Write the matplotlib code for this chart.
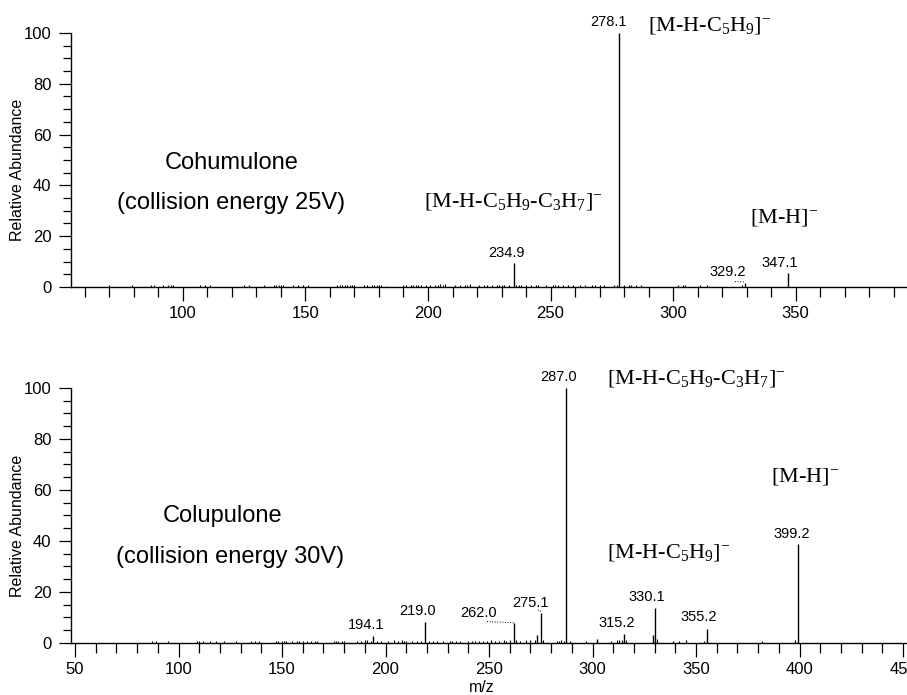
import numpy as np
import matplotlib
matplotlib.use('Agg')
import matplotlib.pyplot as plt
from matplotlib.ticker import MultipleLocator

plt.rcParams['font.family'] = ['Liberation Sans', 'DejaVu Sans']
plt.rcParams['mathtext.fontset'] = 'custom'
plt.rcParams['mathtext.rm'] = 'Liberation Serif'
plt.rcParams['mathtext.it'] = 'Liberation Serif:italic'

# cohumulone, collision energy 25V - labelled peaks
coh_mz = [234.9, 278.1, 329.2, 347.1]
coh_int = [9.3, 100.0, 1.7, 5.4]
# cohumulone small baseline peaks
coh_noise_mz = [70, 79, 87, 88, 92, 94, 95, 96, 107, 109, 111, 125, 127, 133,
                137, 138, 139, 140, 141, 145, 147, 149, 151, 163, 164, 165, 166,
                167, 168, 169, 170, 174, 175, 177, 178, 179, 180, 181, 183, 190,
                191, 193, 194, 195, 196, 197, 199, 201, 203, 204, 205, 206, 207,
                211, 213, 215, 216, 217, 221, 223, 224, 226, 228, 229, 230, 231,
                233, 236, 237, 238, 240, 242, 244, 245, 248, 251, 252, 253, 255,
                257, 259, 262, 264, 267, 268, 270, 272, 276, 277, 280, 282, 283,
                285, 287, 302, 304, 305, 311, 314, 328]
coh_noise_int = [0.6, 0.6, 0.8, 0.8, 0.7, 0.7, 0.8, 0.6, 0.8, 0.7, 0.8, 0.8, 0.9, 0.7,
                 0.8, 0.6, 0.7, 0.8, 0.6, 0.8, 0.7, 0.8, 0.6, 0.6, 0.7, 0.6, 0.7,
                 0.6, 0.7, 0.6, 0.7, 0.6, 0.7, 0.6, 0.8, 0.6, 0.7, 0.6, 0.5, 0.7,
                 0.8, 0.6, 0.7, 0.9, 0.6, 0.7, 0.8, 0.6, 0.7, 0.8, 1.0, 0.7, 1.1,
                 0.6, 0.7, 0.8, 0.6, 1.2, 0.7, 0.8, 0.6, 0.7, 0.9, 0.6, 0.7, 0.8,
                 0.9, 0.7, 0.6, 0.8, 0.7, 0.6, 0.8, 0.7, 0.6, 0.8, 0.7, 0.9, 0.6,
                 0.7, 0.6, 0.6, 0.7, 0.6, 0.7, 0.8, 0.7, 0.6, 0.8, 0.7, 0.6, 0.8,
                 0.6, 0.7, 0.7, 0.8, 0.7, 0.8, 0.7, 0.6]

# colupulone, collision energy 30V - labelled and larger peaks
col_mz = [194.1, 219.0, 262.0, 273.1, 275.1, 287.0, 302.0, 315.2, 329.1,
          330.1, 355.2, 399.2]
col_int = [2.7, 8.3, 7.7, 3.1, 11.9, 100.0, 1.5, 3.5, 3.0, 13.6, 5.5, 38.8]
# colupulone small baseline peaks
col_noise_mz = [87, 89, 95, 109, 110, 112, 115, 118, 122, 128, 135, 137, 139,
                147, 148, 150, 151, 152, 155, 157, 158, 160, 162, 164, 166, 167,
                175, 176, 177, 179, 180, 186, 188, 190, 191, 193, 196, 198, 201,
                204, 206, 208, 209, 210, 213, 215, 217, 221, 223, 225, 228, 231,
                232, 234, 236, 240, 242, 243, 245, 247, 249, 251, 253, 255, 257,
                258, 260, 263, 265, 268, 270, 272, 276, 283, 284, 285, 286, 289,
                297, 309, 312, 313, 314, 316, 331, 339, 342, 345, 354, 382, 398]
col_noise_int = [0.7, 0.8, 0.7, 0.8, 0.7, 0.7, 0.6, 0.6, 0.6, 0.8, 0.9, 0.8, 0.9,
                 0.7, 0.8, 0.7, 0.8, 0.6, 0.7, 0.6, 0.8, 0.7, 0.6, 0.7, 0.6, 0.7,
                 0.6, 0.7, 0.8, 0.7, 0.6, 0.8, 0.7, 1.0, 1.2, 0.7, 0.9, 0.7, 0.8,
                 1.0, 0.7, 1.2, 0.8, 0.9, 0.7, 0.8, 0.7, 0.8, 0.7, 0.9, 0.7, 0.8,
                 0.6, 0.8, 0.7, 0.8, 0.9, 0.7, 0.8, 0.9, 0.8, 1.0, 0.8, 0.9, 1.0,
                 0.8, 1.1, 1.2, 0.9, 1.0, 1.3, 1.1, 1.2, 0.9, 0.9, 1.0, 0.8, 0.7,
                 0.7, 0.8, 1.1, 1.2, 1.3, 1.0, 1.5, 0.8, 0.9, 1.0, 0.9, 0.9, 1.1]

serif = ['Liberation Serif', 'DejaVu Serif']

fig = plt.figure(figsize=(9.07, 6.95), dpi=100)
axTop = fig.add_axes([0.0783, 0.5871, 0.9217, 0.3655])
axBot = fig.add_axes([0.0783, 0.0748, 0.9217, 0.3673])


def styleAxis(ax, xmin, xmax):
    ax.set_xlim(xmin, xmax)
    ax.set_ylim(0, 100)
    for side in ['top', 'right']:
        ax.spines[side].set_visible(False)
    ax.spines['left'].set_linewidth(1.0)
    ax.spines['bottom'].set_linewidth(1.0)
    ax.yaxis.set_major_locator(MultipleLocator(20))
    ax.yaxis.set_minor_locator(MultipleLocator(5))
    ax.xaxis.set_major_locator(MultipleLocator(50))
    ax.xaxis.set_minor_locator(MultipleLocator(10))
    ax.tick_params(axis='y', which='major', direction='out', length=9, width=0.9,
                   labelsize=12, pad=5)
    ax.tick_params(axis='y', which='minor', direction='out', length=6, width=0.9)
    ax.tick_params(axis='x', which='major', direction='out', length=10, width=0.9,
                   labelsize=12, pad=4)
    ax.tick_params(axis='x', which='minor', direction='out', length=7, width=0.9)


styleAxis(axTop, 54.3, 395.5)
styleAxis(axBot, 48.07, 451.9)

# spectra
axTop.vlines(coh_noise_mz, 0, coh_noise_int, color='black', lw=0.8)
axTop.vlines(coh_mz, 0, coh_int, color='black', lw=1.0, clip_on=False)
axBot.vlines(col_noise_mz, 0, col_noise_int, color='black', lw=0.8)
axBot.vlines(col_mz, 0, col_int, color='black', lw=1.0, clip_on=False)

# peak labels, top
pk = dict(fontsize=10.5, ha='center', va='center')
axTop.text(273.5, 104.3, '278.1', **pk)
axTop.text(231.9, 13.4, '234.9', **pk)
axTop.text(322.5, 5.9, '329.2', **pk)
axTop.text(343.7, 9.4, '347.1', **pk)
axTop.plot([325.3, 328.6, 329.2], [2.1, 2.0, 1.7], color='black', lw=0.7, ls=':')

# peak labels, bottom
axBot.text(283.8, 104.2, '287.0', **pk)
axBot.text(396.0, 42.7, '399.2', **pk)
axBot.text(326.3, 18.0, '330.1', **pk)
axBot.text(351.5, 10.2, '355.2', **pk)
axBot.text(311.8, 7.8, '315.2', **pk)
axBot.text(269.8, 15.7, '275.1', **pk)
axBot.text(244.7, 11.8, '262.0', **pk)
axBot.text(215.7, 12.5, '219.0', **pk)
axBot.text(190.6, 7.0, '194.1', **pk)
axBot.plot([249.0, 261.5, 262.0], [8.4, 8.0, 7.7], color='black', lw=0.7, ls=':')
axBot.plot([273.6, 274.8, 275.1], [12.9, 12.6, 11.9], color='black', lw=0.7, ls=':')

# ion assignments
ion = dict(fontsize=16, family=serif, ha='left', va='center')
axTop.text(289.8, 103.0, r'[M-H-C$_5$H$_9$]$^{-}$', **ion)
axTop.text(198.4, 33.5, r'[M-H-C$_5$H$_9$-C$_3$H$_7$]$^{-}$', **ion)
axTop.text(331.4, 27.2, r'[M-H]$^{-}$', **ion)
axBot.text(307.0, 103.8, r'[M-H-C$_5$H$_9$-C$_3$H$_7$]$^{-}$', **ion)
axBot.text(386.2, 65.4, r'[M-H]$^{-}$', **ion)
axBot.text(307.0, 35.3, r'[M-H-C$_5$H$_9$]$^{-}$', **ion)

# compound names
nm = dict(fontsize=17, ha='center', va='center')
axTop.text(120.0, 48.8, 'Cohumulone', **nm)
axTop.text(119.6, 33.1, '(collision energy 25V)', **nm)
axBot.text(121.5, 49.7, 'Colupulone', **nm)
axBot.text(124.9, 33.7, '(collision energy 30V)', **nm)

# axis titles
fig.text(18 / 907, 1 - 170 / 695, 'Relative Abundance', rotation=90,
         fontsize=11.5, ha='center', va='center')
fig.text(18 / 907, 1 - 526 / 695, 'Relative Abundance', rotation=90,
         fontsize=11.5, ha='center', va='center')
fig.text(482 / 907, 1 - 687 / 695, 'm/z', fontsize=11.5, ha='center', va='center')

fig.savefig('out.png', dpi=100)
